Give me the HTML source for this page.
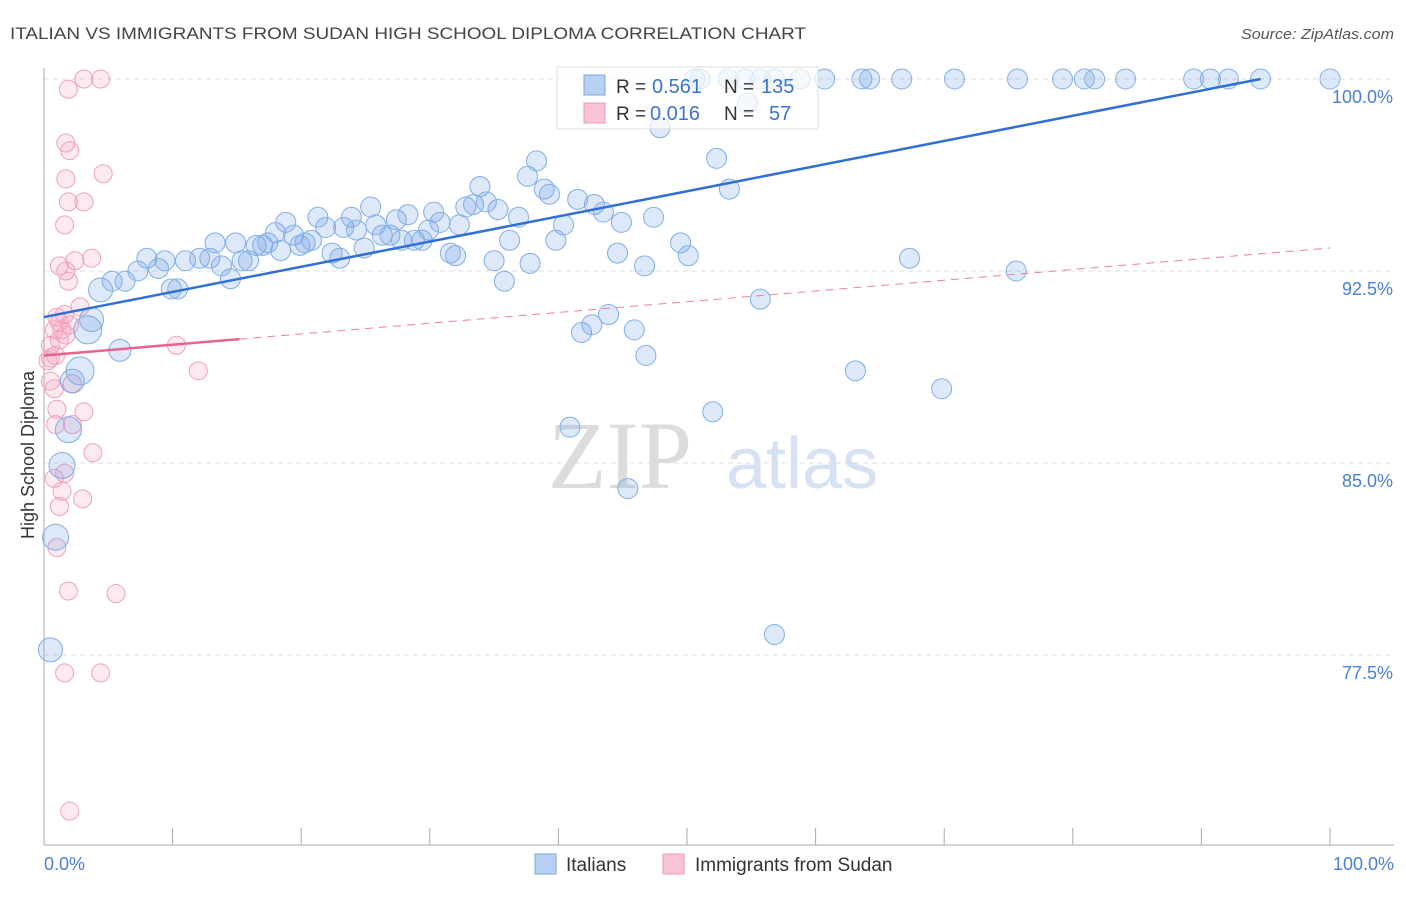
<!DOCTYPE html>
<html><head><meta charset="utf-8"><style>
body{margin:0;background:#fff;font-family:"Liberation Sans",sans-serif;}
svg text{font-family:"Liberation Sans",sans-serif;}
</style></head><body>
<svg id="chart" width="1406" height="892" xmlns="http://www.w3.org/2000/svg">
<text x="10" y="39" font-size="17" fill="#444" textLength="796" lengthAdjust="spacingAndGlyphs">ITALIAN VS IMMIGRANTS FROM SUDAN HIGH SCHOOL DIPLOMA CORRELATION CHART</text>
<text x="1241" y="39" font-size="15" fill="#555" font-style="italic" textLength="153" lengthAdjust="spacingAndGlyphs">Source: ZipAtlas.com</text>
<text x="620" y="488" font-size="96" fill="#dcdcdc" text-anchor="middle" style="font-family:'Liberation Serif',serif">ZIP</text>
<text x="802" y="488" font-size="72" fill="#d6e2f4" text-anchor="middle">atlas</text>
<text transform="translate(34,455) rotate(-90)" font-size="18" fill="#333" text-anchor="middle">High School Diploma</text>
<g id="grid"></g><g id="axes"></g>
<g id="dots"></g><g id="lines"></g>
<g id="legend-top">
<rect x="557" y="67" width="261" height="62" fill="#fff" fill-opacity="0.7" stroke="#ddd"/>
<rect x="584" y="75" width="21" height="20" fill="#b8d0f2" stroke="#7aa6e0"/>
<rect x="584" y="103" width="21" height="20" fill="#f9c5d4" stroke="#e99ab2"/>
<text x="616" y="93" font-size="19" fill="#333">R = </text>
<text x="652" y="93" font-size="20" fill="#3a74d0">0.561</text>
<text x="724" y="93" font-size="19" fill="#333">N = </text>
<text x="761" y="93" font-size="20" fill="#3a74d0">135</text>
<text x="616" y="120" font-size="19" fill="#333">R = </text>
<text x="650" y="120" font-size="20" fill="#3a74d0">0.016</text>
<text x="724" y="120" font-size="19" fill="#333">N = </text>
<text x="769" y="120" font-size="20" fill="#3a74d0">57</text>
</g>
<g>
<rect x="535" y="854" width="21" height="20" fill="#b8d0f2" stroke="#7aa6e0"/>
<text x="566" y="871" font-size="19" fill="#333">Italians</text>
<rect x="663" y="854" width="21" height="20" fill="#f9c5d4" stroke="#e99ab2"/>
<text x="695" y="871" font-size="19" fill="#333">Immigrants from Sudan</text>
</g>
</svg>
<script>
const yTicks=[100,92.5,85,77.5];
const yTickLabels=["100.0%","92.5%","85.0%","77.5%"];
const xTickLabels=["0.0%","100.0%"];
const blueX=[50.6,51.0,53.2,54.5,55.7,56.8,58.8,60.7,63.6,64.2,66.7,70.8,75.7,79.2,80.9,81.7,84.1,89.4,90.7,92.1,94.6,100,54.7,47.9,52.3,53.3,
5.3,6.3,7.3,8.0,8.9,9.4,9.9,10.4,11.0,12.1,12.9,13.3,13.8,14.5,14.9,15.4,15.9,16.5,17.0,17.4,18.0,18.4,18.8,19.4,19.9,20.3,20.8,21.3,21.9,22.4,23.0,23.3,23.9,24.3,24.9,25.4,25.8,26.3,26.9,27.4,27.8,28.3,28.8,29.4,29.9,30.3,30.8,31.6,32.0,32.3,32.8,33.4,33.9,34.4,35.0,35.3,35.8,36.2,36.9,37.6,37.8,38.3,38.9,39.3,39.8,40.4,40.9,41.5,41.8,42.6,42.8,43.5,43.9,44.6,44.9,45.4,45.9,46.7,46.8,47.4,49.5,50.1,52.0,55.7,56.8,63.1,67.3,69.8,75.6];
const blueY=[100,100,100,100,100,100,100,100,100,100,100,100,100,100,100,100,100,100,100,100,100,100,99.06,98.1,96.9,95.7,
92.1,92.1,92.5,93.0,92.6,92.9,91.8,91.8,92.9,93.0,93.0,93.6,92.7,92.2,93.6,92.9,92.9,93.5,93.5,93.6,94.0,93.3,94.4,93.9,93.5,93.6,93.7,94.6,94.2,93.2,93.0,94.2,94.6,94.1,93.4,95.0,94.3,93.9,93.9,94.5,93.7,94.7,93.7,93.7,94.1,94.8,94.4,93.2,93.1,94.3,95.0,95.1,95.8,95.2,92.9,94.9,92.1,93.7,94.6,96.2,92.8,96.8,95.7,95.5,93.7,94.3,86.4,95.3,90.1,90.4,95.1,94.8,90.8,93.2,94.4,84.0,90.2,92.7,89.2,94.6,93.6,93.1,87.0,91.4,78.3,88.6,93.0,87.9,92.5];
const bigX=[4.4,3.4,3.7,5.9,2.8,2.2,1.9,1.4,0.9,0.5];
const bigY=[91.76,90.2,90.6,89.4,88.6,88.2,86.3,84.9,82.1,77.7];
const bigR=[12,14,12,11,14,12,13,13,13,12];
const pinkX=[3.1,4.4,1.9,1.7,2.0,4.6,1.7,1.9,3.1,1.6,1.2,2.4,3.7,1.7,1.9,2.8,1.0,1.2,1.6,2.0,0.8,1.2,0.9,0.5,0.5,0.8,2.2,1.0,3.1,0.9,2.2,3.8,0.8,1.6,1.4,3.0,1.2,1.0,1.9,5.6,1.6,4.4,2.0,10.3,12.0,0.5,0.3,1.4,1.7];
const pinkY=[100,100,99.6,97.5,97.2,96.3,96.1,95.2,95.2,94.3,92.7,92.9,93.0,92.5,92.1,91.1,90.7,90.5,90.8,90.4,90.2,89.8,89.2,89.1,88.2,87.9,88.1,87.1,87.0,86.5,86.5,85.4,84.4,84.6,83.9,83.6,83.3,81.7,80.0,79.9,76.8,76.8,71.4,89.6,88.6,89.6,89.0,90.2,90.0];
const blueTrend=[0,90.7,94.6,100];
const pinkTrend=[0,89.2,100,93.4];
const pinkSolidEnd=15.2;

const X0=44,X1=1330,Y100=79,PX=25.6;
const sx=v=>X0+(X1-X0)*v/100;
const sy=v=>Y100+(100-v)*PX;
const NS="http://www.w3.org/2000/svg";
function mk(tag,attrs,parent){const e=document.createElementNS(NS,tag);for(const k in attrs)e.setAttribute(k,attrs[k]);parent.appendChild(e);return e;}
const grid=document.getElementById('grid'),axes=document.getElementById('axes'),dots=document.getElementById('dots'),lines=document.getElementById('lines');
yTicks.forEach((t,i)=>{
 const l=mk('line',{x1:X0,x2:1394,y1:sy(t),y2:sy(t),stroke:'#ddd','stroke-dasharray':'5,4'},grid);
 
 
 const tx=mk('text',{x:1393,y:sy(t)+24,'font-size':18,fill:'#4a80d0','text-anchor':'end'},axes);
 tx.textContent=yTickLabels[i];
 
 
});
const ax=mk('line',{x1:X0,x2:X0,y1:68,y2:845,stroke:'#aaa'},axes);


const bx=mk('line',{x1:X0,x2:1394,y1:845,y2:845,stroke:'#aaa'},axes);


for(let i=0;i<=10;i++){
 const t=mk('line',{x1:sx(i*10),x2:sx(i*10),y1:828,y2:845,stroke:'#aaa'},axes);
 
 
}
[[0,'start',44],[100,'end',1394]].forEach((p,i)=>{
 const tx=mk('text',{x:p[2],y:870,'font-size':18,fill:'#4a80d0','text-anchor':p[1]},axes);
 tx.textContent=xTickLabels[i];
 
 
});
function dot(x,y,r,fill,stroke,name){
 const c=mk('circle',{cx:sx(x),cy:sy(y),r:r,fill:fill,stroke:stroke,'stroke-width':1},dots);
 
 
}
pinkX.forEach((x,i)=>dot(x,pinkY[i],9,'rgba(245,160,185,0.22)','#f0a0b8','sudan-point'));
blueX.forEach((x,i)=>dot(x,blueY[i],10,'rgba(120,165,230,0.25)','#80aee6','italians-point'));
bigX.forEach((x,i)=>dot(x,bigY[i],bigR[i],'rgba(120,165,230,0.25)','#80aee6','italians-point'));
const bl=mk('line',{x1:sx(blueTrend[0]),y1:sy(blueTrend[1]),x2:sx(blueTrend[2]),y2:sy(blueTrend[3]),stroke:'#2f6fd6','stroke-width':2.5},lines);


const pAt=x=>pinkTrend[1]+(pinkTrend[3]-pinkTrend[1])*(x-pinkTrend[0])/(pinkTrend[2]-pinkTrend[0]);
const pl=mk('line',{x1:sx(0),y1:sy(pAt(0)),x2:sx(pinkSolidEnd),y2:sy(pAt(pinkSolidEnd)),stroke:'#e8648e','stroke-width':2.5},lines);


const pd=mk('line',{x1:sx(pinkSolidEnd),y1:sy(pAt(pinkSolidEnd)),x2:sx(100),y2:sy(pAt(100)),stroke:'#e8809f','stroke-width':1,'stroke-dasharray':'8,6'},lines);


</script>
</body></html>
